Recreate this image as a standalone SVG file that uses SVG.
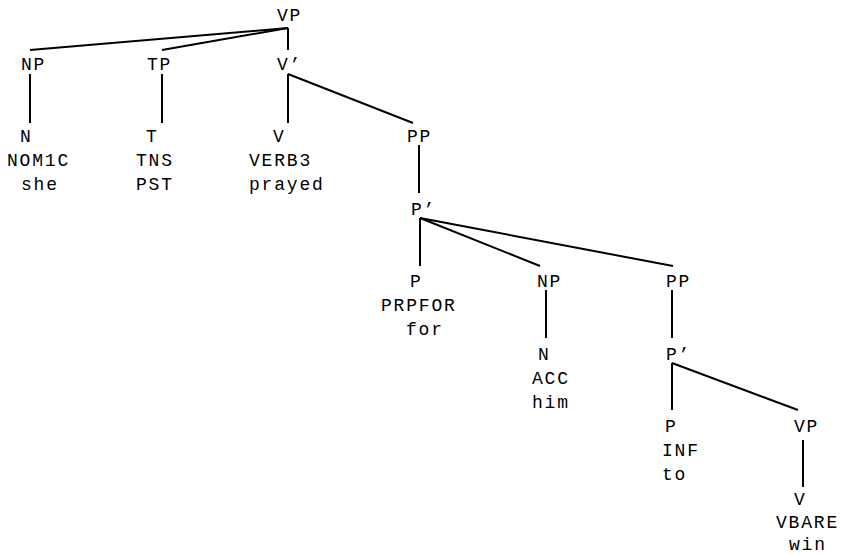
<svg xmlns="http://www.w3.org/2000/svg" width="842" height="555" viewBox="0 0 842 555">
<style>
text{font-family:"Liberation Mono","Courier New",monospace;font-size:18px;letter-spacing:1.8px;fill:#000}
.e{stroke:#000;stroke-width:2;fill:none;stroke-linecap:butt}
</style>
<rect width="842" height="555" fill="#fff"/>
<g id="connectors" class="e">
<line x1="288" y1="28" x2="30" y2="50"/>
<line x1="288" y1="28" x2="162" y2="50"/>
<line x1="288" y1="28" x2="288" y2="50"/>
<line x1="30" y1="74" x2="30" y2="123"/>
<line x1="162" y1="74" x2="162" y2="123"/>
<line x1="288" y1="74" x2="288" y2="123"/>
<line x1="288" y1="74" x2="413" y2="123"/>
<line x1="419" y1="145" x2="419" y2="193"/>
<line x1="420" y1="218" x2="420" y2="266"/>
<line x1="420" y1="218" x2="540" y2="266"/>
<line x1="420" y1="218" x2="673" y2="266"/>
<line x1="546" y1="290" x2="546" y2="338"/>
<line x1="672" y1="290" x2="672" y2="338"/>
<line x1="672" y1="363" x2="672" y2="410"/>
<line x1="672" y1="363" x2="798" y2="410"/>
<line x1="803" y1="440" x2="803" y2="487"/>
</g>
<g id="vp"><text x="277" y="21">VP</text></g>
<g id="np1"><text x="21" y="70">NP</text></g>
<g id="tp"><text x="147" y="70">TP</text></g>
<g id="vbar"><text x="277" y="70">V’</text></g>
<g id="n1"><text x="20" y="142">N</text><text x="7" y="166">NOM1C</text><text x="21" y="190">she</text></g>
<g id="t"><text x="146" y="142">T</text><text x="136" y="166">TNS</text><text x="136" y="190">PST</text></g>
<g id="v"><text x="273" y="142">V</text><text x="249" y="166">VERB3</text><text x="249" y="190">prayed</text></g>
<g id="pp1"><text x="407" y="142">PP</text></g>
<g id="pbar1"><text x="411" y="215">P’</text></g>
<g id="p1"><text x="410" y="287">P</text><text x="381" y="311">PRPFOR</text><text x="406" y="335">for</text></g>
<g id="np2"><text x="537" y="287">NP</text></g>
<g id="pp2"><text x="666" y="287">PP</text></g>
<g id="n2"><text x="538" y="360">N</text><text x="532" y="384">ACC</text><text x="532" y="408">him</text></g>
<g id="pbar2"><text x="666" y="360">P’</text></g>
<g id="p2"><text x="665" y="432">P</text><text x="662" y="456">INF</text><text x="662" y="480">to</text></g>
<g id="vp2"><text x="794" y="432">VP</text></g>
<g id="v2"><text x="794" y="505">V</text><text x="776" y="528">VBARE</text><text x="789" y="550">win</text></g>
</svg>
